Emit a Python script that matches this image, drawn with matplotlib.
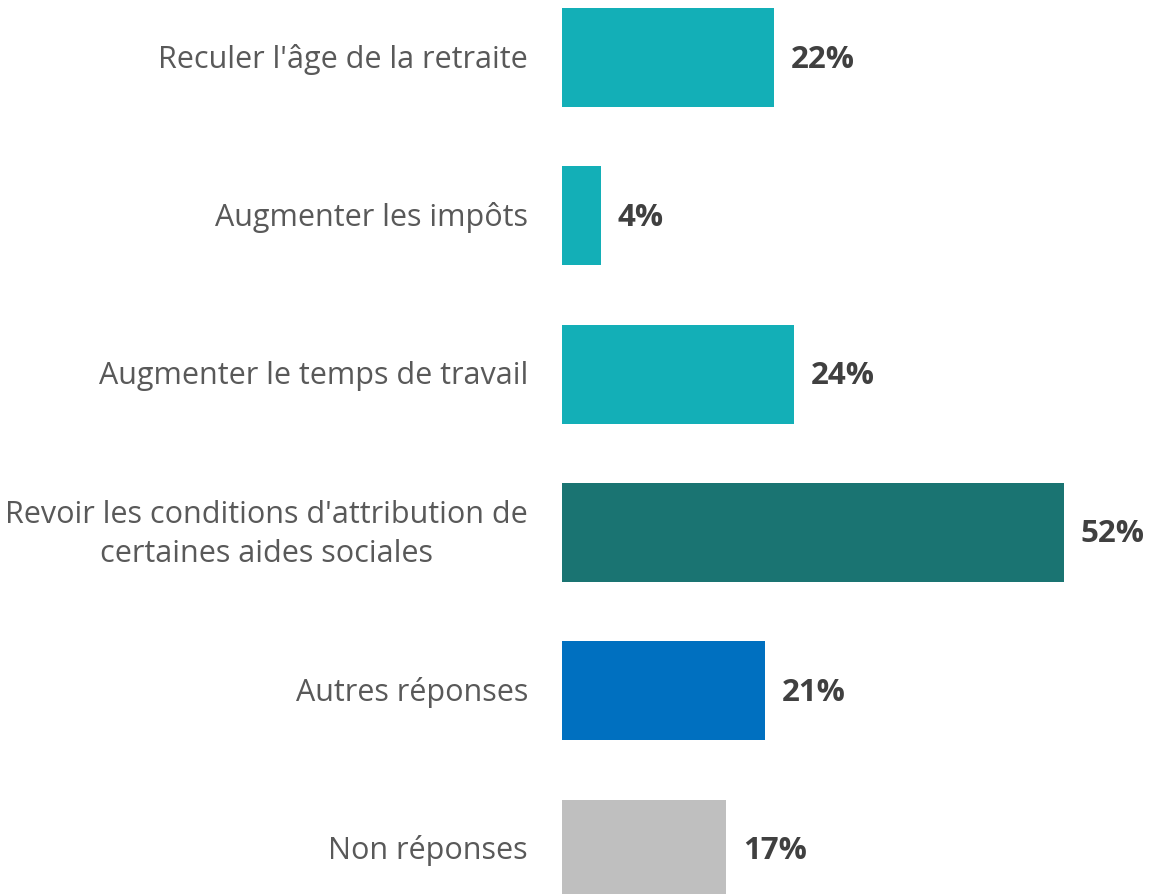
import matplotlib.pyplot as plt
from matplotlib.transforms import offset_copy

categories = [
    "Reculer l'âge de la retraite",
    "Augmenter les impôts",
    "Augmenter le temps de travail",
    "Revoir les conditions d'attribution de\ncertaines aides sociales",
    "Autres réponses",
    "Non réponses",
]
values = [22, 4, 24, 52, 21, 17]
colors = ["#13AFB7", "#13AFB7", "#13AFB7", "#1A7472", "#0070C0", "#BFBFBF"]

W, H = 1149, 895
fig = plt.figure(figsize=(W / 100, H / 100), dpi=100)
ax = fig.add_axes([562 / W, 0, 1 - 562 / W, 1])

ypos = list(range(len(values)))
ax.barh(ypos, values, height=0.625, color=colors, left=0)
ax.set_xlim(0, (W - 562) / 9.65)
ax.set_ylim(5 + (H - 850) / 158.3, -58.5 / 158.3)
ax.axis("off")

lab_tr = offset_copy(ax.get_yaxis_transform(), fig=fig, x=-34, y=-1, units="dots")
val_tr = offset_copy(ax.transData, fig=fig, x=17, y=-1, units="dots")
for y, cat, v in zip(ypos, categories, values):
    ax.text(0, y, cat, transform=lab_tr, ha="right", va="center",
            multialignment="center", fontsize=22, color="#595959",
            family="Open Sans", linespacing=1.4)
    ax.text(v, y, f"{v}%", transform=val_tr, ha="left", va="center",
            fontsize=22.5, fontweight="bold", color="#404040", family="Open Sans")

fig.savefig("out.png", dpi=100)
